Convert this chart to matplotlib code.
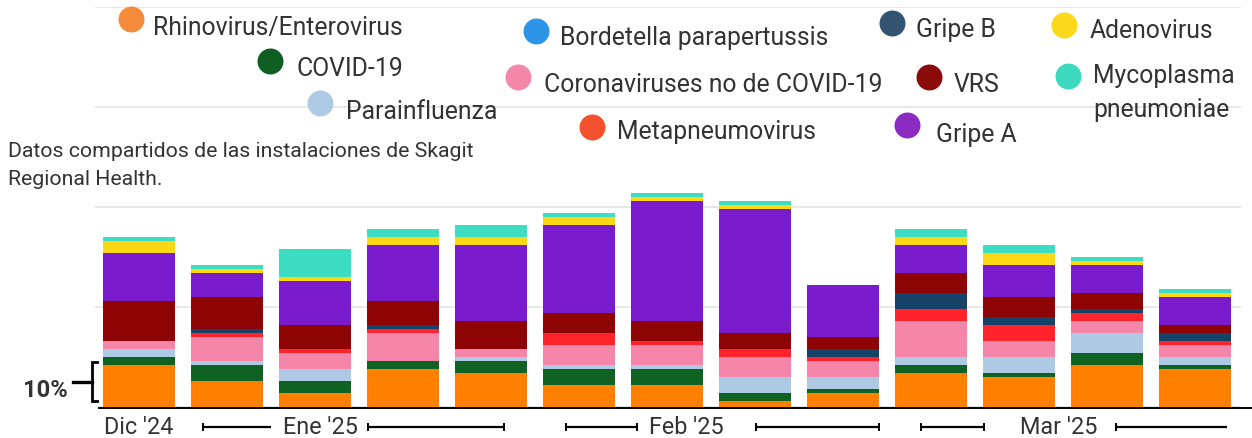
import matplotlib
matplotlib.use('Agg')
import numpy as np
import matplotlib.pyplot as plt
from matplotlib.transforms import Affine2D, blended_transform_factory

# ---------------- data ----------------
weeks = list(range(13))
series_names = ['Rhinovirus/Enterovirus', 'COVID-19', 'Parainfluenza',
                'Bordetella parapertussis', 'Coronaviruses no de COVID-19',
                'Metapneumovirus', 'Gripe B', 'VRS', 'Gripe A', 'Adenovirus',
                'Mycoplasma\npneumoniae']
rhino      = [10.5, 6.5, 3.5, 9.5, 8.5, 5.5, 5.5, 1.5, 3.5, 8.5, 7.5, 10.5, 9.5]
covid      = [2, 4, 3, 2, 3, 4, 4, 2, 1, 2, 1, 3, 1]
parainf    = [2, 1, 3, 0, 1, 1, 1, 4, 3, 2, 4, 5, 2]
bordetella = [0, 0, 0, 0, 0, 0, 0, 0, 0, 0, 0, 0, 0]
corona     = [2, 6, 4, 7, 2, 5, 5, 5, 4, 9, 4, 3, 3]
metapneumo = [0, 1, 1, 1, 0, 3, 1, 2, 1, 3, 4, 2, 1]
gripe_b    = [0, 1, 0, 1, 0, 0, 0, 0, 2, 4, 2, 1, 2]
vrs        = [10, 8, 6, 6, 7, 5, 5, 4, 3, 5, 5, 4, 2]
gripe_a    = [12, 6, 11, 14, 19, 22, 30, 31, 13, 7, 8, 7, 7]
adeno      = [3, 1, 1, 2, 2, 2, 1, 1, 0, 2, 3, 1, 1]
myco       = [1, 1, 7, 2, 3, 1, 1, 1, 0, 2, 2, 1, 1]
month_labels = ["Dic '24", "Ene '25", "Feb '25", "Mar '25"]
note_lines = ["Datos compartidos de las instalaciones de Skagit", "Regional Health."]
bracket_label = "10%"

series = [rhino, covid, parainf, bordetella, corona, metapneumo,
          gripe_b, vrs, gripe_a, adeno, myco]

# ---------------- styles / layout ----------------
bar_colors = ['#FF8000', '#0F6222', '#ADC9E3', '#2F95E6', '#F585A9', '#FF242B',
              '#174268', '#8E0404', '#7A1CCC', '#FAD815', '#3DDDC4']
dot_colors = ['#F58A3B', '#0F5E22', '#AECAE5', '#2E94E8', '#F488AB', '#F5512F',
              '#335471', '#8B0A0A', '#8A2AC2', '#FAD91C', '#3DDAC0']
# legend layout in pixels from top-left: dot centre x, y, text x, baseline y
legend_layout = [(130.5, 19.7, 153.4, 34.5), (270, 62, 296, 76),
                 (319.5, 103.7, 346, 119), (536, 31.7, 559.5, 45),
                 (518, 77.7, 543.7, 92), (592, 127.7, 617, 139.5),
                 (891.7, 24, 915.5, 36.7), (929, 78.3, 954, 92.3),
                 (907, 126, 935.6, 141.7), (1063.8, 26, 1090, 38.3),
                 (1068, 76.7, 1093, 83.3)]
month_pos = [0, 2.057, 6.216, 10.45]
# month range bars: (x0, x1, cap_left, cap_right)
month_spans = [(0.727, 1.5, True, False), (2.60, 4.148, True, True),
               (4.85, 5.66, True, True), (7.01, 8.41, True, True),
               (8.886, 9.60, True, True), (11.10, 12.36, True, False)]

W, H = 1252, 439
plt.rcParams['font.family'] = ['Roboto', 'DejaVu Sans']
fig = plt.figure(figsize=(W / 100, H / 100), dpi=100)
pxT = Affine2D().scale(1 / W, -1 / H).translate(0, 1) + fig.transFigure

ax = fig.add_axes([95 / W, (H - 407.7) / H, (1241 - 95) / W, 400 / H])
ax.set_xlim(-0.5, 12.52)
ax.set_ylim(0, 100)
ax.axis('off')

for gy in [0, 25, 50, 75, 100]:
    ax.axhline(gy, color='#E0E0E0', lw=1.1, zorder=0)

bottom = np.zeros(len(weeks))
for vals, col in zip(series, bar_colors):
    v = np.array(vals, dtype=float)
    ax.bar(weeks, v, bottom=bottom, width=72 / 88, color=col, linewidth=0, zorder=2)
    bottom += v

# black axis line
fig.add_artist(plt.Line2D([99, W], [409.3, 409.3], transform=pxT, color='black', lw=1.4))

txt_col = '#333333'
# month labels and range lines
for lab, p in zip(month_labels, month_pos):
    ax.text(p, -6.5, lab, ha='center', va='baseline', fontsize=16.8, color=txt_col, clip_on=False)
ly = -4.95
for x0, x1, cl, cr in month_spans:
    ax.plot([x0, x1], [ly, ly], color='black', lw=1.6, clip_on=False, solid_capstyle='butt')
    if cl:
        ax.plot([x0, x0], [ly - 0.75, ly + 0.75], color='black', lw=1.4, clip_on=False)
    if cr:
        ax.plot([x1, x1], [ly - 0.75, ly + 0.75], color='black', lw=1.4, clip_on=False)

# 10% bracket
bT = blended_transform_factory(pxT, ax.transData)
ax.plot([97, 92, 92, 97], [11.2, 11.2, 1.4, 1.4], transform=bT, color='black', lw=2.0,
        clip_on=False, solid_joinstyle='miter')
ax.plot([73, 92], [6.3, 6.3], transform=bT, color='black', lw=2.4, clip_on=False)
fig.text(68, 396.7, bracket_label, transform=pxT, ha='right', va='baseline',
         fontsize=17.1, fontweight='bold', color=txt_col)

# legend
for name, dc, (dx, dy, tx, ty) in zip(series_names, dot_colors, legend_layout):
    fig.add_artist(plt.Line2D([dx], [dy], transform=pxT, marker='o', markersize=18.7,
                              markerfacecolor=dc, markeredgewidth=0, linestyle='none'))
    lines = name.split('\n')
    for k, ln in enumerate(lines):
        fig.text(tx, ty + 33.4 * k, ln, transform=pxT, ha='left', va='baseline',
                 fontsize=17.8, color=txt_col)

# note
for k, ln in enumerate(note_lines):
    fig.text(8, 156.7 + 28.3 * k, ln, transform=pxT, ha='left', va='baseline',
             fontsize=15.3, color=txt_col)

fig.savefig('out.png', dpi=100)
